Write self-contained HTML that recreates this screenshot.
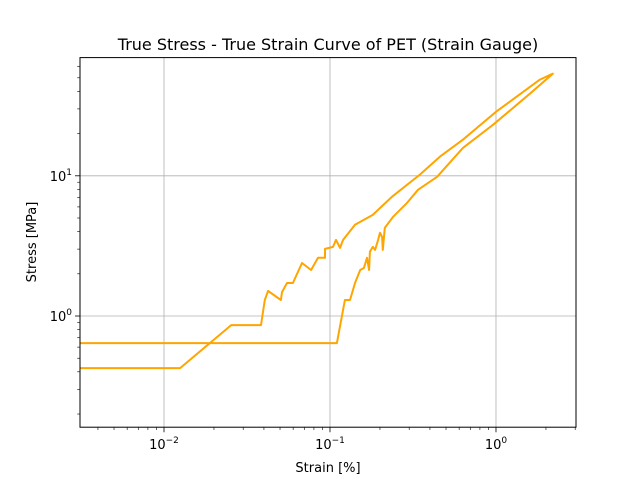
<!DOCTYPE html>
<html><head><meta charset="utf-8"><style>
body{margin:0;background:#fff;}
svg text{font-family:"DejaVu Sans","Liberation Sans",sans-serif;}
</style></head><body>
<svg id="chart" width="640" height="480" xmlns="http://www.w3.org/2000/svg">
<rect width="640" height="480" fill="#fff"/>
<g id="grid"></g>
<g id="plot"></g>
<rect x="80" y="57.6" width="496" height="369.6" fill="none" stroke="#000" stroke-width="1"/>
<g id="ticks"></g>
<text x="328" y="50" text-anchor="middle" font-size="16">True Stress - True Strain Curve of PET (Strain Gauge)</text>
<text x="328" y="472" text-anchor="middle" font-size="13">Strain [%]</text>
<text transform="translate(36,242) rotate(-90)" text-anchor="middle" font-size="13">Stress [MPa]</text>
</svg>
<script>
const strain=[0.00312,0.110,0.123,0.132,0.1415,0.152,0.160,0.167,0.172,0.174,0.181,0.187,0.195,0.200,0.206,0.208,0.214,0.240,0.291,0.339,0.442,0.632,0.959,1.60,2.20,1.84,1.0,0.632,0.460,0.348,0.236,0.181,0.1415,0.120,0.118,0.115,0.1087,0.1043,0.0933,0.0933,0.0847,0.0769,0.0678,0.0598,0.0551,0.0514,0.0506,0.0424,0.0405,0.0384,0.0254,0.0125,0.00312];
const stress=[0.641,0.641,1.30,1.30,1.72,2.13,2.20,2.60,2.13,2.87,3.11,2.96,3.49,3.92,3.66,2.96,4.25,5.10,6.41,7.94,9.84,15.8,23.1,38.5,53.5,48.5,28.6,18.1,13.7,10.2,7.08,5.26,4.47,3.49,3.32,3.06,3.49,3.11,3.01,2.60,2.60,2.13,2.39,1.72,1.72,1.48,1.30,1.51,1.30,0.862,0.862,0.425,0.425];
const xTicks=[0.01,0.1,1];
const xTickLabels=["−2","−1","0"];
const yTicks=[1,10];
const yTickLabels=["0","1"];
const L=80,R=576,T=57.6,B=427.2;
const xmin=-2.506,xmax=0.482,ymin=-0.793,ymax=1.843;
const sx=v=>L+(Math.log10(v)-xmin)/(xmax-xmin)*(R-L);
const sy=v=>B-(Math.log10(v)-ymin)/(ymax-ymin)*(B-T);
const NS="http://www.w3.org/2000/svg";
function mk(tag,attrs,parent){const e=document.createElementNS(NS,tag);for(const k in attrs)e.setAttribute(k,attrs[k]);document.getElementById(parent).appendChild(e);return e;}
xTicks.forEach((t,i)=>{const x=sx(t);
 const g=mk('line',{x1:x,x2:x,y1:T,y2:B,stroke:'#b0b0b0','stroke-width':0.8},'grid');
 
 
 const tk=mk('line',{x1:x,x2:x,y1:B,y2:B+5,stroke:'#000','stroke-width':0.8},'ticks');
 
 
 const tx=mk('text',{x:x,y:B+22,'text-anchor':'middle','font-size':13},'ticks');
 
 
 tx.innerHTML='10<tspan dy="-6" font-size="9">'+xTickLabels[i]+'</tspan>';
});
yTicks.forEach((t,i)=>{const y=sy(t);
 const g=mk('line',{x1:L,x2:R,y1:y,y2:y,stroke:'#b0b0b0','stroke-width':0.8},'grid');
 
 
 const tk=mk('line',{x1:L-5,x2:L,y1:y,y2:y,stroke:'#000','stroke-width':0.8},'ticks');
 
 
 const tx=mk('text',{x:L-8,y:y+5,'text-anchor':'end','font-size':13},'ticks');
 
 
 tx.innerHTML='10<tspan dy="-6" font-size="9">'+yTickLabels[i]+'</tspan>';
});
for(let d=-3;d<=1;d++)for(let m=2;m<=9;m++){const v=m*Math.pow(10,d);
 const lv=Math.log10(v);
 if(lv>xmin&&lv<xmax){const x=sx(v);const e=mk('line',{x1:x,x2:x,y1:B,y2:B+2.8,stroke:'#000','stroke-width':0.6},'ticks');
  
  }
 if(lv>ymin&&lv<ymax){const y=sy(v);const e=mk('line',{x1:L-2.8,x2:L,y1:y,y2:y,stroke:'#000','stroke-width':0.6},'ticks');
  
  }
}
const pts=strain.map((s,i)=>sx(s).toFixed(1)+','+sy(stress[i]).toFixed(1)).join(' ');
const line=mk('polyline',{points:pts,fill:'none',stroke:'#ffa500','stroke-width':2,'stroke-linejoin':'round'},'plot');


</script>
</body></html>
